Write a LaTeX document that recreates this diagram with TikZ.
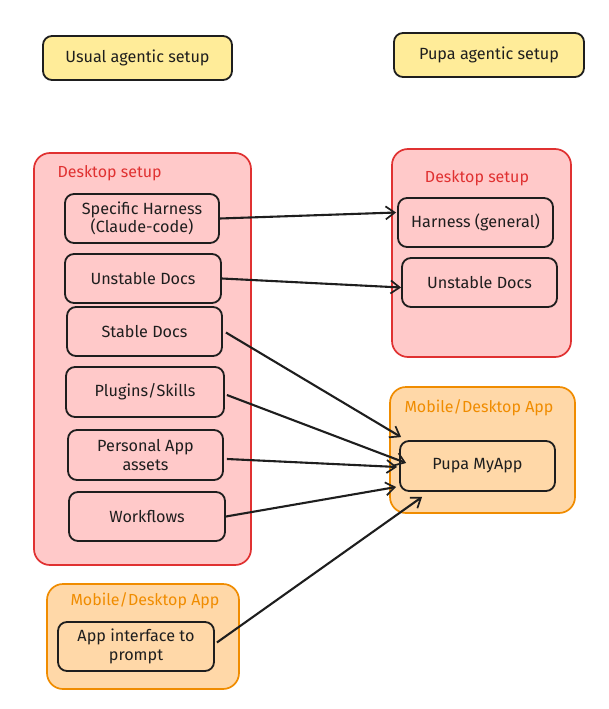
\documentclass[tikz,border=0pt]{standalone}
\usepackage{fontspec}
\setmainfont{Fira Sans}
\usetikzlibrary{arrows.meta,calc}
\definecolor{pinkfill}{HTML}{FFC9C9}
\definecolor{redline}{HTML}{E03131}
\definecolor{orangefill}{HTML}{FFD8A8}
\definecolor{orangeline}{HTML}{F08C00}
\definecolor{yellowfill}{HTML}{FFEC99}
\definecolor{ink}{HTML}{1E1E1E}
\tikzset{
  txt/.style={font=\fontsize{16.2}{18.5}\selectfont, text=ink, align=center},
  item/.style={txt, draw=ink, line width=1.8pt, rounded corners=9pt, minimum width=155pt, minimum height=49pt, inner sep=2pt},
  titlebox/.style={item, fill=yellowfill, minimum width=189pt, minimum height=44pt},
  deskbox/.style={draw=redline, fill=pinkfill, line width=1.7pt, rounded corners=16pt},
  appbox/.style={draw=orangeline, fill=orangefill, line width=1.7pt, rounded corners=16pt},
  redlabel/.style={font=\fontsize{16}{18}\selectfont, text=redline},
  orangelabel/.style={font=\fontsize{16}{18}\selectfont, text=orangeline},
  conn/.style={draw=ink, line width=2.1pt, -{Straight Barb[length=9pt,width=13pt,line width=1.7pt]}}
}
\begin{document}
\begin{tikzpicture}[x=1pt,y=-1pt]
\useasboundingbox[fill=white] (0,0) rectangle (608,709);

% titles
\node[titlebox] (usual) at (137.5,58) {Usual agentic setup};
\node[titlebox, minimum width=190pt] (pupat) at (489,55) {Pupa agentic setup};

% containers
\node[deskbox, minimum width=217pt, minimum height=412pt] (ldesk) at (142.5,359) {};
\node[redlabel, anchor=west] (ldeskl) at (54,173) {Desktop setup};
\node[deskbox, minimum width=179pt, minimum height=208pt] (rdesk) at (481.5,253) {};
\node[redlabel] (rdeskl) at (477,178) {Desktop setup};
\node[appbox, minimum width=185pt, minimum height=126pt] (rapp) at (482.5,450) {};
\node[orangelabel, anchor=west] (rappl) at (401,408) {Mobile/Desktop App};
\node[appbox, minimum width=192pt, minimum height=105pt] (lapp) at (143,636.5) {};
\node[orangelabel] (lappl) at (145,601) {Mobile/Desktop App};

% left items
\node[item, minimum width=154pt] (spec) at (142,218.5) {Specific Harness\\(Claude-code)};
\node[item, minimum width=156pt] (lunst) at (143,278.5) {Unstable Docs};
\node[item] (stable) at (144.5,331.5) {Stable Docs};
\node[item, minimum width=158pt, minimum height=50pt] (plug) at (145,392) {Plugins/Skills};
\node[item, minimum height=50pt] (pers) at (145.5,455) {Personal App\\assets};
\node[item, minimum width=156pt] (work) at (147,516.5) {Workflows};
\node[item, minimum width=156pt] (appif) at (136,646.5) {App interface to\\prompt};

% right items
\node[item] (harn) at (475.5,222.5) {Harness (general)};
\node[item] (runst) at (479.5,282.5) {Unstable Docs};
\node[item, minimum height=50pt] (pupa) at (477.5,466) {Pupa MyApp};

% connectors
\draw[conn] (spec.east) -- ($(harn.west)+(-1,-10)$);
\draw[conn] (lunst.east) -- ($(runst.west)+(0,5)$);
\draw[conn] ($(stable.east)+(3,1)$) -- ($(pupa.north west)+(2,-3)$);
\draw[conn] ($(plug.east)+(2,3)$) -- ($(pupa.west)+(7,-3)$);
\draw[conn] ($(pers.east)+(3,4)$) -- ($(pupa.west)+(-2,1)$);
\draw[conn] (work.east) -- ($(pupa.west)+(-3,21)$);
\draw[conn] ($(appif.east)+(2,-4)$) -- ($(pupa.south west)+(23,5)$);
\end{tikzpicture}
\end{document}
